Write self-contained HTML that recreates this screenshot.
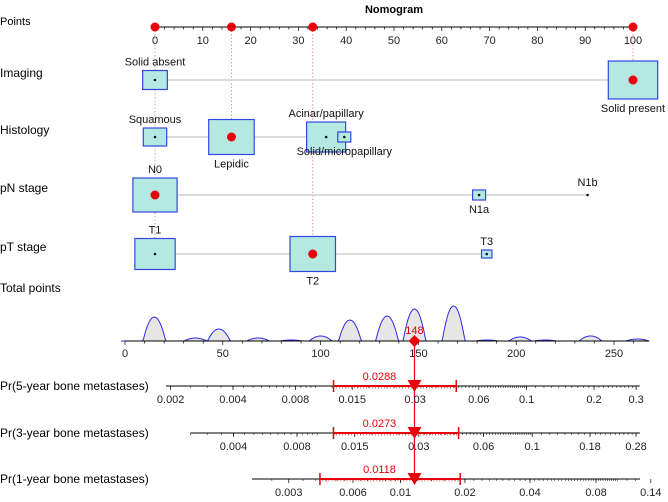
<!DOCTYPE html>
<html><head><meta charset="utf-8"><style>
body{margin:0;background:#fff}
svg{display:block;font-family:"Liberation Sans",Arial,sans-serif}
</style></head><body>
<svg id="c" width="668" height="502" viewBox="0 0 668 502"></svg>
<script>
// ---------- data ----------
const pointTicks=[0,10,20,30,40,50,60,70,80,90,100];
const selectedPoints=[0,16,33,100];
const rowNames=["Imaging","Histology","pN stage","pT stage"];
const imagingLevels=["Solid absent","Solid present"];
const imagingPoints=[0,100];
const imagingSizes=[19,38];
const histLevels=["Squamous","Lepidic","Acinar/papillary","Solid/micropapillary"];
const histPoints=[0,16,35.8,39.6];
const histSizes=[18,35,30,10];
const pnLevels=["N0","N1a","N1b"];
const pnPoints=[0,67.8,90.5];
const pnSizes=[34,10,0];
const ptLevels=["T1","T2","T3"];
const ptPoints=[0,33,69.4];
const ptSizes=[31,35,8];
const selectedIdx=[1,1,0,1];
const totalTicks=[0,50,100,150,200,250];
const densityCenters=[15,36,48,68,85,100,115,134,148,168,185,202,215,238,262];
const densityHeights=[24,3,12,3,1,5,21,25,32,35,1,4,1,5,2];
const totalScore=148;
const pr5Ticks=[0.002,0.004,0.008,0.015,0.03,0.06,0.1,0.2,0.3];
const pr3Ticks=[0.004,0.008,0.015,0.03,0.06,0.1,0.18,0.28];
const pr1Ticks=[0.003,0.006,0.01,0.02,0.04,0.08,0.14];
const probValues=[0.0288,0.0273,0.0118];
const ciLow=[0.0122,0.0119,0.0042];
const ciHigh=[0.047,0.046,0.019];
// ---------- scales ----------
const NS="http://www.w3.org/2000/svg";
const svg=document.getElementById('c');
function el(t,a,txt){const e=document.createElementNS(NS,t);for(const k in a)e.setAttribute(k,a[k]);if(txt!==undefined)e.textContent=txt;svg.appendChild(e);return e;}
const px=p=>155+p*4.78;
const tx=t=>125+t*1.956;
const cll=p=>Math.log(-Math.log(1-p));
function probScale(p1,x1,p2,x2){const s=(x2-x1)/(cll(p2)-cll(p1));return p=>x1+s*(cll(p)-cll(p1));}
const sc5=probScale(0.004,233,0.2,594);
const sc3=probScale(0.008,297,0.18,590);
const sc1=probScale(0.006,353,0.04,530);
// ---------- title ----------
let e=el('text',{x:394,y:13,'font-size':11,'font-weight':'bold','text-anchor':'middle'},'Nomogram');

e=el('text',{x:0,y:25,'font-size':11},'Points');

e=el('line',{x1:px(0),x2:px(100),y1:27,y2:27,stroke:'#000','stroke-width':1});

for(let v=0;v<=100;v+=2){el('line',{x1:px(v),x2:px(v),y1:27,y2:v%10==0?31:29.5,stroke:'#000','stroke-width':0.7});}
pointTicks.forEach(v=>{e=el('text',{x:px(v),y:44,'font-size':11,'text-anchor':'middle',fill:'#222'},v);
});
const rowY=[80,137,195,254];
selectedPoints.forEach((v,i)=>{const yEnd=v==0?254:(v==16?137:(v==33?254:80));
e=el('line',{x1:px(v),x2:px(v),y1:27,y2:yEnd,stroke:'#f08080','stroke-width':0.8,'stroke-dasharray':'1.5,2'});
});
selectedPoints.forEach(v=>{e=el('circle',{cx:px(v),cy:27,r:4.5,fill:'#e8000b'});
});
const rows=[[imagingLevels,imagingPoints,imagingSizes],[histLevels,histPoints,histSizes],[pnLevels,pnPoints,pnSizes],[ptLevels,ptPoints,ptSizes]];
const labelPos=[[-1,1],[-1,1,-1,1],[-1,1,-1],[-1,1,-1]];
rows.forEach((r,ri)=>{const y=rowY[ri];const [lv,pts,sz]=r;
e=el('text',{x:0,y:y-3,'font-size':12},rowNames[ri]);

e=el('line',{x1:px(Math.min(...pts)),x2:px(Math.max(...pts)),y1:y,y2:y,stroke:'#c8c8c8','stroke-width':1.2});

pts.forEach((p,i)=>{const s=sz[i];const w=s*1.3;
if(s>0){e=el('rect',{x:px(p)-w/2,y:y-s/2,width:w,height:s,fill:'#b4e9e1',stroke:'#3346e0','stroke-width':1.2});
}
if(i===selectedIdx[ri]&&!(ri==2)||(ri==2&&i==0)){e=el('circle',{cx:px(p),cy:y,r:4.5,fill:'#e8000b'});}
else{e=el('circle',{cx:px(p),cy:y,r:1.3,fill:'#111'});}

const up=labelPos[ri][i]<0;const off=Math.max(s/2,4)+(up?5:13);
e=el('text',{x:px(p),y:up?y-off:y+off,'font-size':11,'text-anchor':'middle',fill:'#111'},lv[i]);
});});
e=el('text',{x:0,y:292,'font-size':12},'Total points');

const base=341;let d='M'+tx(-2)+','+base;
for(let t=-2;t<=268;t+=0.5){let h=0;densityCenters.forEach((c,i)=>{const u=(t-c)/5.8;if(Math.abs(u)<1)h=Math.max(h,densityHeights[i]*(1-u*u));});d+=' L'+tx(t).toFixed(1)+','+(base-h).toFixed(1);}
d+=' L'+tx(268)+','+base+' Z';
e=el('path',{d:d,fill:'#e6e6e6',stroke:'#2d2de0','stroke-width':1});

e=el('line',{x1:tx(0),x2:tx(268),y1:base,y2:base,stroke:'#000','stroke-width':1});

for(let v=0;v<=265;v+=10){el('line',{x1:tx(v),x2:tx(v),y1:base,y2:v%50==0?base+4:base+2.5,stroke:'#000','stroke-width':0.7});}
totalTicks.forEach(v=>{e=el('text',{x:tx(v),y:base+16,'font-size':11,'text-anchor':'middle',fill:'#222'},v);
});
const probAxes=[["Pr(5-year bone metastases)",pr5Ticks,sc5,386,0.0019,0.31],["Pr(3-year bone metastases)",pr3Ticks,sc3,433,0.0025,0.29],["Pr(1-year bone metastases)",pr1Ticks,sc1,479,0.0019,0.15]];
e=el('line',{x1:tx(totalScore),x2:tx(totalScore),y1:base,y2:479,stroke:'#e8000b','stroke-width':1.2});

probAxes.forEach((a,i)=>{const [nm,ticks,sc,y,lo,hi]=a;
e=el('text',{x:0,y:y+4,'font-size':12},nm);

const xl=i==2?252:sc(lo),xr=sc(hi);
e=el('line',{x1:xl,x2:Math.min(xr,640),y1:y,y2:y,stroke:'#000','stroke-width':1});

const steps=[[0.001,0.0002],[0.01,0.0005],[0.1,0.002],[0.35,0.01]];let v=0.0010;
while(v<hi){const st=steps.find(s=>v<s[0])[1];const x=sc(v);if(x>=xl&&x<=640)el('line',{x1:x,x2:x,y1:y,y2:y+2,stroke:'#000','stroke-width':0.5});v=+(v+st).toFixed(5);}
ticks.forEach(t=>{const x=sc(t);el('line',{x1:x,x2:x,y1:y,y2:y+4,stroke:'#000','stroke-width':0.7});
e=el('text',{x:x,y:y+17,'font-size':11,'text-anchor':'middle',fill:'#222'},t);
});
const cx=tx(totalScore);const x1=sc(ciLow[i]),x2=sc(ciHigh[i]);
e=el('line',{x1:x1,x2:x2,y1:y,y2:y,stroke:'#e8000b','stroke-width':2});

[x1,x2].forEach(x=>el('line',{x1:x,x2:x,y1:y-6,y2:y+6,stroke:'#e8000b','stroke-width':1.5}));
for(let k=x1;k<x2;k+=3)el('line',{x1:k,x2:k,y1:y,y2:y+2.5,stroke:'#e8000b','stroke-width':0.5});
e=el('path',{d:`M${cx-7},${y-6} L${cx+7},${y-6} L${cx},${y+6} Z`,fill:'#e8000b'});

e=el('text',{x:cx-35,y:y-6,'font-size':11,'text-anchor':'middle',fill:'#e8000b'},probValues[i]);
});
e=el('path',{d:`M${tx(totalScore)},${base-6} L${tx(totalScore)+6},${base} L${tx(totalScore)},${base+6} L${tx(totalScore)-6},${base} Z`,fill:'#e8000b'});

e=el('text',{x:tx(totalScore),y:base-7,'font-size':11,'text-anchor':'middle',fill:'#e8000b'},totalScore);

</script>
</body></html>
